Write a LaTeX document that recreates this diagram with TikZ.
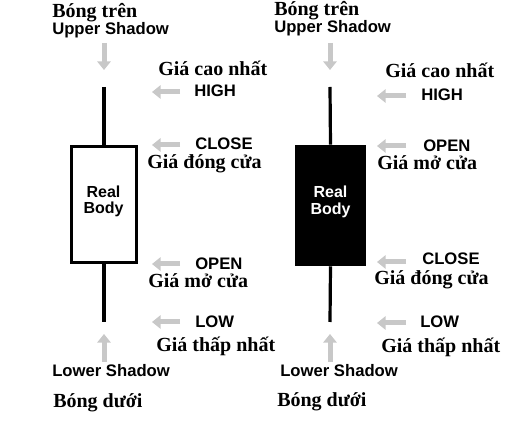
\documentclass[tikz,border=0pt]{standalone}
\usepackage{fontspec}
\setmainfont{Liberation Serif}
\newfontfamily\lsans{Liberation Sans}
\usetikzlibrary{arrows.meta}
\definecolor{agray}{RGB}{200,200,200}
\begin{document}
\begin{tikzpicture}[x=0.75pt,y=-0.75pt,
  en/.style={font=\lsans\bfseries\fontsize{12.5}{14}\selectfont, inner sep=0, anchor=base west},
  vi/.style={font=\bfseries\fontsize{15}{17}\selectfont, inner sep=0, anchor=base west},
  bodytxt/.style={font=\lsans\bfseries\fontsize{12}{16}\selectfont, inner sep=0, align=center, anchor=base},
  garrow/.style={draw=agray, line width=3.75pt, -{Triangle[width=10pt,length=6.5pt]}},
  wick/.style={line width=2.4pt}]
\useasboundingbox (0,0) rectangle (525,423);
% ---------- left candle ----------
\node[draw, line width=2.25pt, minimum width=48.75pt, minimum height=87pt, inner sep=0] (lbody) at (104,204.5) {};
\coordinate (lhigh) at (104,87);
\coordinate (llow) at (104,322);
\draw[wick] (lhigh) -- (lbody.north);
\draw[wick] (lbody.south) -- (llow);
\node[bodytxt] (lreal) at (103.5,198) {Real};
\node[bodytxt] (lbodyt) at (103.5,214) {Body};
% ---------- right candle ----------
\node[fill=black, minimum width=53.25pt, minimum height=90.75pt, inner sep=0] (rbody) at (330.5,205.5) {};
\coordinate (rhigh) at (330,87);
\coordinate (rlow) at (330,322);
\draw[wick] (rhigh) -- (rbody.north);
\draw[wick] (rbody.south) -- (rlow);
\node[bodytxt, text=white] (rreal) at (330.5,198) {Real};
\node[bodytxt, text=white] (rbodyt) at (330.5,215) {Body};
% ---------- left labels ----------
\node[vi] (lbt) at (52,18) {Bóng trên};
\node[en] (lus) at (52,35) {Upper Shadow};
\node[vi] (lgcn) at (158,76) {Giá cao nhất};
\node[en] (lhi) at (194,97) {HIGH};
\node[en] (lcl) at (195,150) {CLOSE};
\node[vi] (lgdc) at (147,169) {Giá đóng cửa};
\node[en] (lop) at (195,270) {OPEN};
\node[vi] (lgmc) at (148,288) {Giá mở cửa};
\node[en] (llo) at (195,328) {LOW};
\node[vi] (lgtn) at (156,352) {Giá thấp nhất};
\node[en] (lls) at (52,377) {Lower Shadow};
\node[vi] (lbd) at (53,408) {Bóng dưới};
% ---------- right labels ----------
\node[vi] (rbt) at (274,16) {Bóng trên};
\node[en] (rus) at (274,33) {Upper Shadow};
\node[vi] (rgcn) at (385,78) {Giá cao nhất};
\node[en] (rhi) at (421,101) {HIGH};
\node[en] (rop) at (423,152) {OPEN};
\node[vi] (rgmc) at (377,170) {Giá mở cửa};
\node[en] (rcl) at (422,265) {CLOSE};
\node[vi] (rgdc) at (374,285) {Giá đóng cửa};
\node[en] (rlo) at (420,328) {LOW};
\node[vi] (rgtn) at (381,353) {Giá thấp nhất};
\node[en] (rls) at (280,377) {Lower Shadow};
\node[vi] (rbd) at (277,407) {Bóng dưới};
% ---------- arrow coordinates ----------
\coordinate (la1s) at (104,43);  \coordinate (la1e) at (104,70);
\coordinate (la2s) at (104,362); \coordinate (la2e) at (104,334);
\coordinate (lh1) at (180,92);  \coordinate (lh1e) at (152,92);
\coordinate (lh2) at (180,145); \coordinate (lh2e) at (152,145);
\coordinate (lh3) at (180,264); \coordinate (lh3e) at (152,264);
\coordinate (lh4) at (180,322); \coordinate (lh4e) at (152,322);
\coordinate (ra1s) at (330,43);  \coordinate (ra1e) at (330,70);
\coordinate (ra2s) at (330,362); \coordinate (ra2e) at (330,334);
\coordinate (rh1) at (406,96);  \coordinate (rh1e) at (377,96);
\coordinate (rh2) at (406,146); \coordinate (rh2e) at (377,146);
\coordinate (rh3) at (406,262); \coordinate (rh3e) at (377,262);
\coordinate (rh4) at (406,323); \coordinate (rh4e) at (377,323);
\foreach \a in {la1,la2,ra1,ra2} \draw[garrow] (\a s) -- (\a e);
\foreach \a in {lh1,lh2,lh3,lh4,rh1,rh2,rh3,rh4} \draw[garrow] (\a) -- (\a e);
\end{tikzpicture}
\end{document}
